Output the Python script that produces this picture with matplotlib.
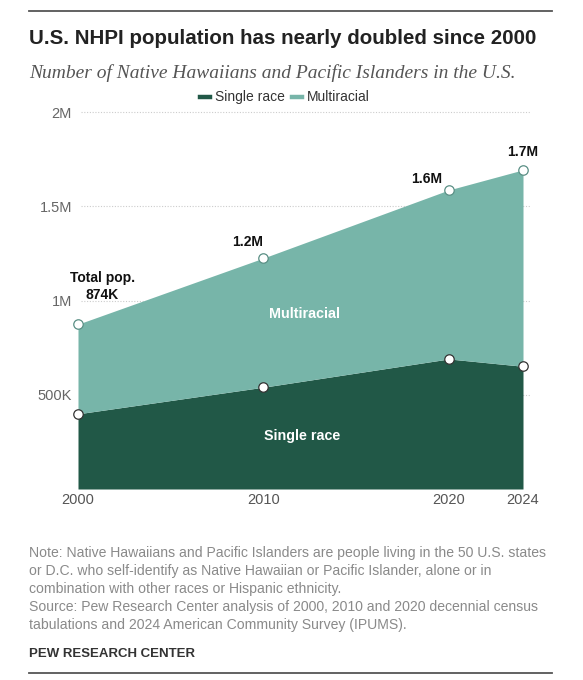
import matplotlib
matplotlib.use("Agg")
import matplotlib.pyplot as plt

# data
years = [2000, 2010, 2020, 2024]
single_race = [398835, 540013, 689966, 651000]
total_pop = [874414, 1225195, 1586463, 1693000]
total_labels = ["Total pop.\n874K", "1.2M", "1.6M", "1.7M"]
ytick_vals = [0, 500000, 1000000, 1500000, 2000000]
ytick_labels = ["", "500K", "1M", "1.5M", "2M"]

DARK = "#215847"
LIGHT = "#77b5a9"
W, H = 583, 680

plt.rcParams["font.family"] = ["Liberation Sans", "DejaVu Sans"]
fig = plt.figure(figsize=(W / 100, H / 100), dpi=100)


def fx(px):
    return px / W


def fy(py):
    return 1 - py / H


# rules
fig.add_artist(plt.Line2D([fx(29), fx(552)], [fy(11), fy(11)], color="#555555", lw=1.3))
fig.add_artist(plt.Line2D([fx(29), fx(552)], [fy(673), fy(673)], color="#555555", lw=1.3))

fig.text(fx(29), fy(38), "U.S. NHPI population has nearly doubled since 2000",
         fontsize=14.8, fontweight="bold", color="#222222", va="center", ha="left")
fig.text(fx(29), fy(73), "Number of Native Hawaiians and Pacific Islanders in the U.S.",
         fontsize=14, fontstyle="italic", family="Liberation Serif", color="#555555",
         va="center", ha="left")

# plot area: 2000 -> x=78, 2024 -> x=523 ; 0 -> y=489, 2M -> y=112
ax = fig.add_axes([fx(78), fy(489), fx(523) - fx(78), fy(112) - fy(489)])
ax.set_xlim(2000, 2024)
ax.set_ylim(0, 2000000)

for v in ytick_vals[1:]:
    ax.plot([2000.15, 2024.4], [v, v], color="#cccccc", lw=0.8, ls=(0, (1, 1.5)),
            zorder=0, clip_on=False)

ax.fill_between(years, 0, single_race, color=DARK, lw=0, zorder=1)
ax.fill_between(years, single_race, total_pop, color=LIGHT, lw=0, zorder=1)

ax.plot(years, single_race, ls="none", marker="o", ms=6.8, mfc="white", mec="#333333",
        mew=0.9, zorder=3, clip_on=False)
ax.plot(years, total_pop, ls="none", marker="o", ms=6.8, mfc="white", mec="#5a8f85",
        mew=0.9, zorder=3, clip_on=False)

label_offsets = [(1.3, 200000), (-0.86, 87000), (-1.18, 58000), (0, 95000)]
for x, y, lab, (dx, dy) in zip(years, total_pop, total_labels, label_offsets):
    ax.text(x + dx, y + dy, lab, fontsize=10, fontweight="bold", color="#111111",
            ha="center", va="center", linespacing=1.35)

ax.text(2012.19, 931000, "Multiracial", fontsize=10.3, fontweight="bold", color="white",
        ha="center", va="center")
ax.text(2012.08, 280000, "Single race", fontsize=10.3, fontweight="bold", color="white",
        ha="center", va="center")

ax.set_xticks(years)
ax.set_xticklabels([str(y) for y in years])
ax.set_yticks(ytick_vals)
ax.set_yticklabels(ytick_labels)
ax.tick_params(axis="x", length=0, pad=3, labelsize=10.5, labelcolor="#555555")
ax.tick_params(axis="y", length=0, pad=4.3, labelsize=10.5, labelcolor="#666666")
for s in ax.spines.values():
    s.set_visible(False)
ax.set_facecolor("none")

# legend
ly = 97
fig.add_artist(plt.Line2D([fx(200), fx(210)], [fy(ly), fy(ly)], color=DARK, lw=3.2))
fig.text(fx(215), fy(ly), "Single race", fontsize=10, color="#333333", va="center")
fig.add_artist(plt.Line2D([fx(292), fx(302)], [fy(ly), fy(ly)], color=LIGHT, lw=3.2))
fig.text(fx(307), fy(ly), "Multiracial", fontsize=10, color="#333333", va="center")

note = ("Note: Native Hawaiians and Pacific Islanders are people living in the 50 U.S. states\n"
        "or D.C. who self-identify as Native Hawaiian or Pacific Islander, alone or in\n"
        "combination with other races or Hispanic ethnicity.\n"
        "Source: Pew Research Center analysis of 2000, 2010 and 2020 decennial census\n"
        "tabulations and 2024 American Community Survey (IPUMS).")
fig.text(fx(29), fy(546), note, fontsize=10.1, color="#8a8a8a", va="top", ha="left",
         linespacing=1.36)
fig.text(fx(29), fy(654), "PEW RESEARCH CENTER", fontsize=9.5, fontweight="bold",
         color="#333333", va="center", ha="left")

fig.savefig("out.png", dpi=100, facecolor="white")
